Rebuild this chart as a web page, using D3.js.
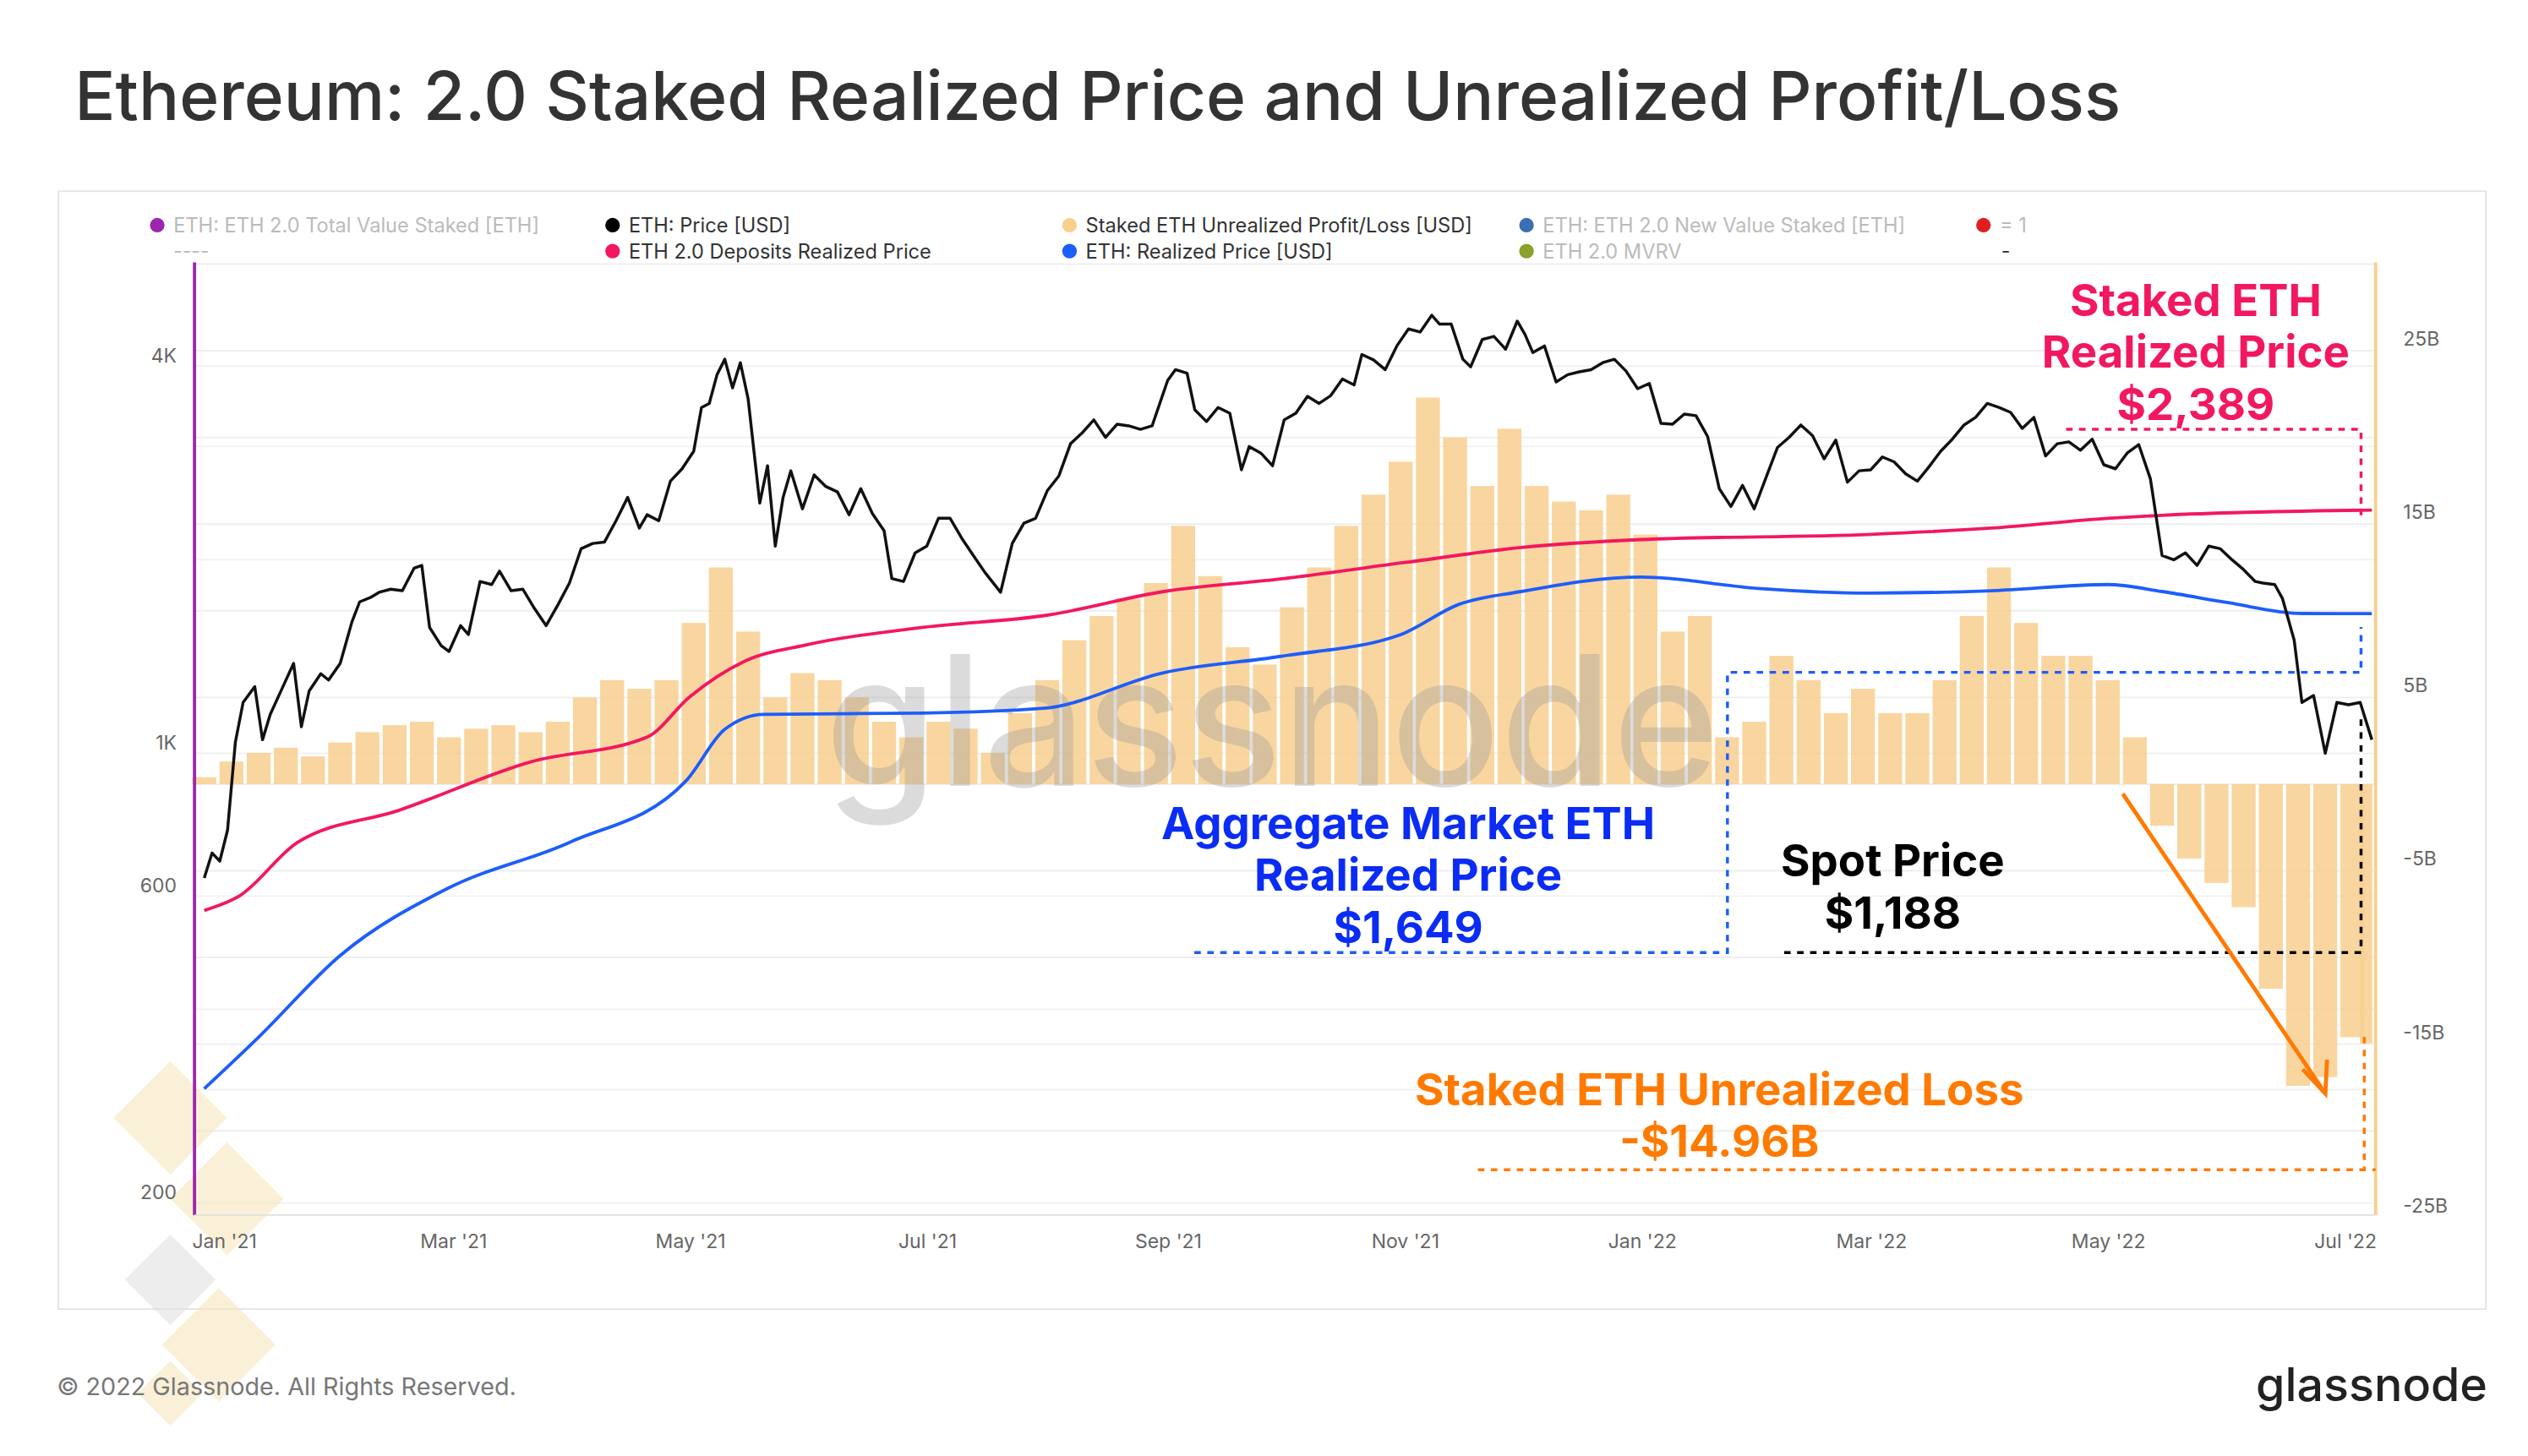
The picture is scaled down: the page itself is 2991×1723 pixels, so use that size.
<!DOCTYPE html>
<html><head><meta charset="utf-8">
<script src="https://cdn.jsdelivr.net/npm/d3@7"></script>
<style>html,body{margin:0;padding:0;background:#fff}svg{display:block}text{font-family:Inter,"Open Sans",sans-serif}</style>
</head><body><div id="c"></div>
<script>
const priceDates=["2020-12-27","2020-12-29","2020-12-31","2021-01-02","2021-01-04","2021-01-06","2021-01-09","2021-01-11","2021-01-13","2021-01-16","2021-01-19","2021-01-21","2021-01-23","2021-01-26","2021-01-28","2021-01-31","2021-02-03","2021-02-05","2021-02-08","2021-02-10","2021-02-13","2021-02-16","2021-02-19","2021-02-21","2021-02-23","2021-02-26","2021-02-28","2021-03-03","2021-03-05","2021-03-08","2021-03-11","2021-03-13","2021-03-16","2021-03-19","2021-03-22","2021-03-25","2021-03-28","2021-03-31","2021-04-03","2021-04-06","2021-04-09","2021-04-12","2021-04-15","2021-04-18","2021-04-20","2021-04-23","2021-04-26","2021-04-29","2021-05-02","2021-05-04","2021-05-06","2021-05-08","2021-05-10","2021-05-12","2021-05-14","2021-05-16","2021-05-19","2021-05-21","2021-05-23","2021-05-25","2021-05-27","2021-05-30","2021-06-02","2021-06-05","2021-06-08","2021-06-11","2021-06-14","2021-06-17","2021-06-20","2021-06-22","2021-06-25","2021-06-28","2021-07-01","2021-07-04","2021-07-07","2021-07-10","2021-07-13","2021-07-16","2021-07-20","2021-07-23","2021-07-26","2021-07-29","2021-08-01","2021-08-04","2021-08-07","2021-08-10","2021-08-13","2021-08-16","2021-08-19","2021-08-22","2021-08-25","2021-08-28","2021-09-01","2021-09-03","2021-09-06","2021-09-08","2021-09-11","2021-09-14","2021-09-17","2021-09-20","2021-09-22","2021-09-25","2021-09-28","2021-10-01","2021-10-04","2021-10-07","2021-10-10","2021-10-13","2021-10-16","2021-10-19","2021-10-21","2021-10-24","2021-10-27","2021-10-30","2021-11-02","2021-11-05","2021-11-08","2021-11-10","2021-11-13","2021-11-16","2021-11-18","2021-11-21","2021-11-24","2021-11-27","2021-11-30","2021-12-02","2021-12-04","2021-12-07","2021-12-10","2021-12-13","2021-12-16","2021-12-19","2021-12-22","2021-12-25","2021-12-28","2021-12-31","2022-01-03","2022-01-06","2022-01-09","2022-01-12","2022-01-15","2022-01-18","2022-01-21","2022-01-24","2022-01-27","2022-01-30","2022-02-02","2022-02-05","2022-02-08","2022-02-11","2022-02-14","2022-02-17","2022-02-20","2022-02-23","2022-02-26","2022-03-01","2022-03-04","2022-03-07","2022-03-10","2022-03-13","2022-03-16","2022-03-19","2022-03-22","2022-03-25","2022-03-28","2022-03-31","2022-04-03","2022-04-06","2022-04-09","2022-04-12","2022-04-15","2022-04-18","2022-04-21","2022-04-24","2022-04-27","2022-04-30","2022-05-03","2022-05-06","2022-05-09","2022-05-12","2022-05-15","2022-05-18","2022-05-21","2022-05-24","2022-05-27","2022-05-30","2022-06-02","2022-06-05","2022-06-08","2022-06-10","2022-06-13","2022-06-15","2022-06-18","2022-06-20","2022-06-23","2022-06-26","2022-06-29","2022-07-02","2022-07-05","2022-07-08"];
const priceValues=[640,700,680,760,1040,1200,1270,1050,1150,1260,1380,1100,1250,1330,1300,1380,1600,1720,1750,1780,1800,1790,1940,1960,1570,1470,1440,1580,1530,1850,1830,1920,1790,1800,1680,1580,1700,1840,2080,2120,2130,2300,2500,2240,2350,2300,2650,2770,2950,3450,3500,3880,4100,3700,4050,3560,2450,2800,2100,2500,2750,2400,2710,2600,2550,2350,2580,2360,2220,1870,1850,2050,2100,2320,2320,2160,2030,1910,1780,2120,2280,2320,2560,2700,3030,3150,3300,3100,3250,3230,3190,3230,3800,3950,3900,3420,3280,3450,3380,2760,3000,2930,2800,3300,3380,3590,3500,3600,3820,3740,4170,4090,3950,4300,4570,4520,4800,4650,4650,4100,3990,4400,4450,4250,4700,4480,4200,4300,3780,3880,3920,3950,4050,4100,3930,3690,3760,3260,3250,3370,3350,3110,2580,2420,2610,2400,2680,2990,3100,3240,3120,2870,3070,2640,2750,2760,2890,2840,2720,2650,2790,2950,3080,3240,3330,3500,3450,3390,3200,3330,2900,3030,3050,2960,3080,2810,2770,2930,3020,2670,2030,2000,2050,1960,2100,2080,2000,1930,1850,1840,1830,1740,1500,1200,1230,1000,1200,1190,1200,1050,1060,1160,1188];
const depDates=["2020-12-27","2021-01-05","2021-01-20","2021-02-15","2021-03-21","2021-04-20","2021-05-01","2021-05-15","2021-05-31","2021-06-30","2021-08-01","2021-08-31","2021-10-01","2021-11-01","2021-12-01","2022-01-01","2022-03-01","2022-04-01","2022-05-01","2022-05-15","2022-07-08"];
const depValues=[570,600,727,815,970,1060,1225,1390,1475,1570,1640,1785,1870,1980,2090,2150,2190,2240,2320,2345,2389];
const rpDates=["2020-12-27","2021-01-10","2021-01-31","2021-02-28","2021-03-31","2021-04-30","2021-05-10","2021-05-20","2021-06-30","2021-07-31","2021-08-31","2021-09-30","2021-10-31","2021-11-15","2021-12-01","2022-01-01","2022-01-31","2022-03-01","2022-04-01","2022-05-01","2022-05-15","2022-06-01","2022-06-20","2022-07-08"];
const rpValues=[301,362,485,618,727,906,1090,1150,1155,1175,1335,1415,1530,1705,1785,1880,1805,1775,1790,1830,1785,1715,1650,1649];
const barStart="2020-12-27";
const barValues=[0.4,1.3,1.8,2.1,1.6,2.4,3.0,3.4,3.6,2.7,3.2,3.4,3.0,3.6,5.0,6.0,5.5,6.0,9.3,12.5,8.8,5.0,6.4,6.0,5.0,3.6,2.7,3.6,3.2,1.8,4.1,6.0,8.3,9.7,10.7,11.6,14.9,12,7.9,6.9,10.2,12.5,14.9,16.7,18.6,22.3,20,17.2,20.5,17.2,16.3,15.8,16.7,14.4,8.8,9.7,2.7,3.6,7.4,6.0,4.1,5.5,4.1,4.1,6.0,9.7,12.5,9.3,7.4,7.4,6.0,2.7,-2.4,-4.3,-5.7,-7.1,-11.8,-17.4,-16.9,-14.6,-14.96];
const xTickDates=["2021-01-01","2021-03-01","2021-05-01","2021-07-01","2021-09-01","2021-11-01","2022-01-01","2022-03-01","2022-05-01","2022-07-01"];
const xTickLabels=["Jan '21","Mar '21","May '21","Jul '21","Sep '21","Nov '21","Jan '22","Mar '22","May '22","Jul '22"];
const leftTicks=[200,600,1000,4000], leftTickLabels=["200","600","1K","4K"];
const rightTicks=[-25,-15,-5,5,15,25], rightTickLabels=["-25B","-15B","-5B","5B","15B","25B"];

const P=d3.timeParse("%Y-%m-%d");
const svg=d3.select("#c").append("svg").attr("width",2991).attr("height",1723).attr("viewBox","0 0 1560 898.7");
svg.append("rect").attr("width",1560).attr("height",900).attr("fill","#fff");
svg.append("text").attr("x",46).attr("y",74).attr("font-size",41.8).attr("fill","#333").attr("font-weight",500).text("Ethereum: 2.0 Staked Realized Price and Unrealized Profit/Loss");
svg.append("rect").attr("x",36).attr("y",118).attr("width",1498).attr("height",690).attr("fill","none").attr("stroke","#e4e4e4");

const L=120,R=1466,T=162,B=750;
const x=d3.scaleTime().domain([P("2021-01-01"),P("2022-01-01")]).range([138,1013]);
const y=d3.scaleLog().domain([1000,4000]).range([465,226]);
const yr=d3.scaleLinear().domain([0,10]).range([484,377]);

const g=svg.append("g");
d3.range(-25,31,5).forEach(v=>{const yy=yr(v);if(yy>=T&&yy<=B)g.append("line").attr("x1",L).attr("x2",R).attr("y1",yy).attr("y2",yy).attr("stroke","#eeeeee");});
[200,300,400,600,1000,2000,3000,4000].forEach(v=>g.append("line").attr("x1",L).attr("x2",R).attr("y1",y(v)).attr("y2",y(v)).attr("stroke","#f1f1f1"));

const dec=svg.append("g").attr("opacity",0.5);
[[105,690,35],[140,740,35],[105,790,28],[135,830,35],[105,860,20]].forEach(([cx,cy,r],i)=>{
 dec.append("path").attr("d",`M${cx},${cy-r}L${cx+r},${cy}L${cx},${cy+r}L${cx-r},${cy}Z`).attr("fill",i==2?"#ddd":"#f7e3b0");});

const bd=barValues.map((v,i)=>({d:d3.timeDay.offset(P(barStart),i*7),v}));
bd[bd.length-1].d=P("2022-07-08");
const bw=x(P("2021-01-08"))-x(P("2021-01-01"));
svg.append("g").selectAll("rect").data(bd).join("rect")
 .attr("x",d=>x(d.d)-bw/2+1).attr("width",d=>Math.max(2,Math.min(bw-2,R-2-(x(d.d)-bw/2+1))))
 .attr("y",d=>Math.min(yr(d.v),yr(0))).attr("height",d=>Math.abs(yr(d.v)-yr(0)))
 .attr("fill","#f8cf8f").attr("opacity",0.85);

svg.append("text").attr("x",785).attr("y",485).attr("text-anchor","middle").attr("font-size",112).attr("fill","#999").attr("opacity",0.35).attr("font-weight",500).text("glassnode");

const line=d3.line().x(d=>x(d[0])).y(d=>y(d[1])).curve(d3.curveMonotoneX);
function drawLine(ds,vs,col,w){svg.append("path").datum(ds.map((d,i)=>[P(d),vs[i]])).attr("d",line).attr("fill","none").attr("stroke",col).attr("stroke-width",w);}
drawLine(depDates,depValues,"#f2185f",2);
drawLine(rpDates,rpValues,"#1d5dfa",2);
svg.append("path").datum(priceDates.map((d,i)=>[P(d),priceValues[i]])).attr("d",d3.line().x(d=>x(d[0])).y(d=>y(d[1]))).attr("fill","none").attr("stroke","#111").attr("stroke-width",1.8).attr("stroke-linejoin","round");

svg.append("line").attr("x1",L).attr("x2",L).attr("y1",T).attr("y2",B).attr("stroke","#9b27af").attr("stroke-width",2);
svg.append("line").attr("x1",R).attr("x2",R).attr("y1",T).attr("y2",B).attr("stroke","#f8cf8f").attr("stroke-width",2);
svg.append("line").attr("x1",L).attr("x2",R).attr("y1",B).attr("y2",B).attr("stroke","#e0e0e0");

const ax=svg.append("g").attr("transform",`translate(0,${B})`).call(d3.axisBottom(x).tickValues(xTickDates.map(P)).tickFormat((d,i)=>xTickLabels[i]).tickSize(0).tickPadding(12));
const al=svg.append("g").attr("transform",`translate(${L-8},0)`).call(d3.axisLeft(y).tickValues(leftTicks).tickFormat((d,i)=>leftTickLabels[i]).tickSize(0));
const ar=svg.append("g").attr("transform",`translate(${R+14},0)`).call(d3.axisRight(yr).tickValues(rightTicks).tickFormat((d,i)=>rightTickLabels[i]).tickSize(0));
[ax,al,ar].forEach(a=>{a.select(".domain").remove();a.selectAll("text").attr("fill","#666").attr("font-size",12).attr("font-family","Inter,sans-serif");});
ar.selectAll(".tick").attr("transform",d=>`translate(0,${yr(d)-7})`);
al.selectAll(".tick").attr("transform",(d)=>`translate(0,${y(d)-6})`);

const leg=[[97,139,"#9b27af","ETH: ETH 2.0 Total Value Staked [ETH]","#bbb"],[378,139,"#000","ETH: Price [USD]","#333"],[660,139,"#f8cf8f","Staked ETH Unrealized Profit/Loss [USD]","#333"],[942,139,"#3b6fb5","ETH: ETH 2.0 New Value Staked [ETH]","#bbb"],[1224,139,"#e02020","= 1","#bbb"],
[378,155,"#f2185f","ETH 2.0 Deposits Realized Price","#333"],[660,155,"#1d5dfa","ETH: Realized Price [USD]","#333"],[942,155,"#8aa02a","ETH 2.0 MVRV","#bbb"]];
leg.forEach(([lx,ly,c,t,tc])=>{svg.append("circle").attr("cx",lx).attr("cy",ly).attr("r",4.5).attr("fill",c);
 svg.append("text").attr("x",lx+10).attr("y",ly+4.5).attr("font-size",12.3).attr("fill",tc).text(t);});
svg.append("text").attr("x",107).attr("y",159).attr("font-size",12).attr("fill","#bbb").text("----");
svg.append("text").attr("x",1235).attr("y",159).attr("font-size",12).attr("fill","#333").text("-");

function txt(lines,cx,y0,col){lines.forEach((t,i)=>svg.append("text").attr("x",cx).attr("y",y0+i*32).attr("text-anchor","middle").attr("font-size",27.5).attr("font-weight",700).attr("fill",col).text(t));}
function dl(pts,col){svg.append("path").attr("d",d3.line()(pts)).attr("fill","none").attr("stroke",col).attr("stroke-width",1.8).attr("stroke-dasharray","4,4");}
txt(["Staked ETH","Realized Price","$2,389"],1355,195,"#f2185f");
dl([[1275,265],[1457,265],[1457,318]],"#f2185f");
txt(["Aggregate Market ETH","Realized Price","$1,649"],869,518,"#0a2cf5");
dl([[737,588],[1066,588],[1066,415],[1457,415],[1457,387]],"#1d5dfa");
txt(["Spot Price","$1,188"],1168,541,"#000");
dl([[1101,588],[1457,588],[1457,440]],"#000");
txt(["Staked ETH Unrealized Loss","-$14.96B"],1061,682,"#ff7a00");
dl([[912,722],[1466,722]],"#ff7a00");dl([[1459,640],[1459,722]],"#ff7a00");
svg.append("line").attr("x1",1310).attr("y1",490).attr("x2",1433).attr("y2",672).attr("stroke","#ff7a00").attr("stroke-width",2.5);
svg.append("path").attr("d","M1421,660L1435,675L1436,654").attr("fill","none").attr("stroke","#ff7a00").attr("stroke-width",2.5);

svg.append("text").attr("x",35).attr("y",861).attr("font-size",15).attr("fill","#777").text("© 2022 Glassnode. All Rights Reserved.");
svg.append("text").attr("x",1535).attr("y",865).attr("text-anchor","end").attr("font-size",29).attr("fill","#222").attr("font-weight",500).text("glassnode");
</script></body></html>
